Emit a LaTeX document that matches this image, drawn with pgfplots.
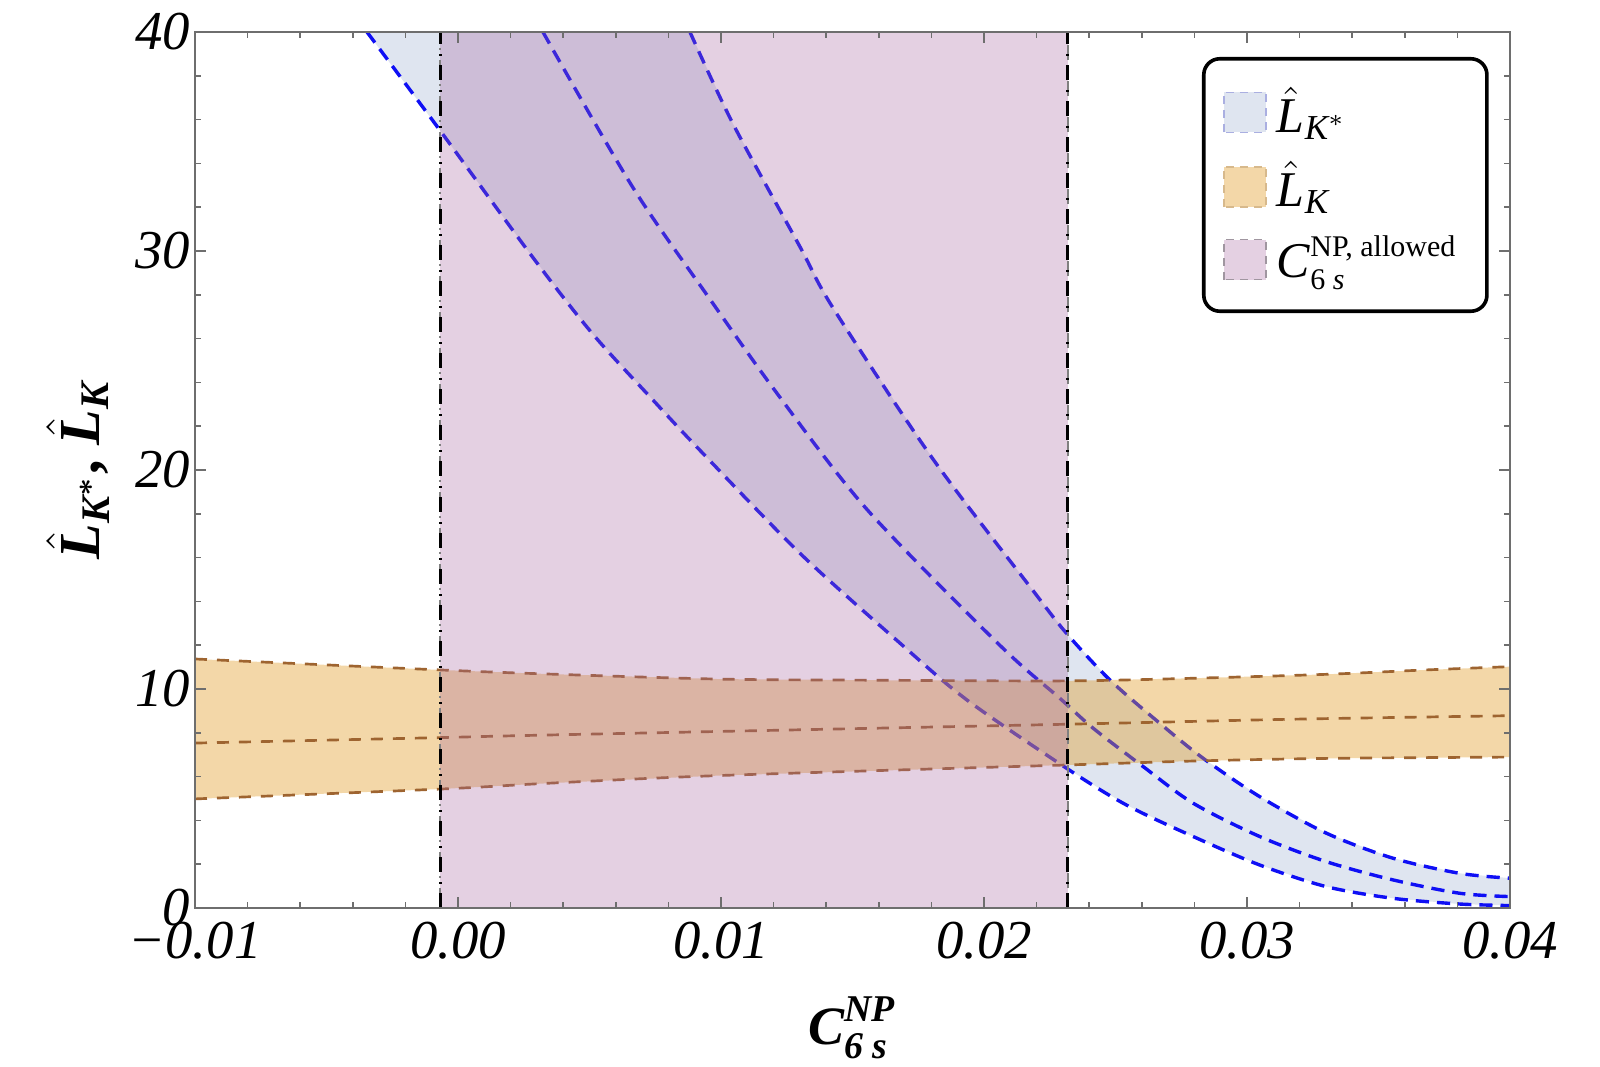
\documentclass[border=0pt]{standalone}
\usepackage{fontspec}
\setmainfont{Liberation Serif}
\usepackage{amsmath}
\usepackage{bm}
\usepackage{pgfplots}
\pgfplotsset{compat=1.18}

\definecolor{bandblue}{RGB}{223,229,240}
\definecolor{lineblue}{RGB}{15,15,245}
\definecolor{bandorange}{RGB}{225,155,37}
\definecolor{lineorange}{RGB}{158,100,48}
\definecolor{bandpurple}{RGB}{165,98,158}
\definecolor{legorange}{RGB}{243,215,168}
\definecolor{legpurple}{RGB}{228,208,226}
\definecolor{framegray}{RGB}{110,110,110}

\newcommand{\bi}[1]{\text{\bfseries\itshape #1}}
\newcommand{\ti}[1]{\text{\itshape #1}}

\begin{document}
\begin{tikzpicture}
\useasboundingbox (-48.75pt,-39.75pt) rectangle (351.25pt,227pt);
\begin{axis}[
  at={(0,0)}, anchor=south west,
  scale only axis, width=328.75pt, height=219pt,
  xmin=-0.01, xmax=0.04, ymin=0, ymax=40,
  axis on top,
  scaled x ticks=false, scaled y ticks=false,
  axis line style={framegray, line width=0.4pt},
  tick style={framegray, line width=0.4pt},
  tick align=inside,
  major tick length=2.75pt, minor tick length=1.5pt,
  xtick={-0.01,0,0.01,0.02,0.03,0.04},
  xticklabels={−0.01,0.00,0.01,0.02,0.03,0.04},
  ytick={0,10,20,30,40},
  yticklabels={0,10,20,30,40},
  minor x tick num=4, minor y tick num=4,
  ticklabel style={font=\fontsize{13.7}{16}\selectfont\itshape},
  yticklabel style={xshift=2.3pt},
  xlabel={$\bi{C}^{\bi{NP}}_{\bi{6 s}}$},
  ylabel={$\bm{\hat{\bi{L}}}_{\bi{K}^{\boldsymbol{*}}}\text{\bfseries ,}\ \bm{\hat{\bi{L}}}_{\bi{K}}$},
  xlabel style={at={(axis description cs:0.5,-0.137)}, anchor=center, font=\fontsize{13.5}{16}\selectfont},
  ylabel style={at={(axis description cs:-0.089,0.5)}, anchor=center, font=\fontsize{14.5}{17}\selectfont},
  legend image code/.code={\draw[sharp corners, line width=0.4pt, #1] (0pt,-5pt) rectangle (10.5pt,5pt);},
  legend style={at={(0.7658,0.9715)}, anchor=north west, draw=black, line width=0.9pt,
    rounded corners=4pt, fill=white, font=\fontsize{12.5}{14}\selectfont,
    row sep=3.8pt, inner xsep=4.8pt, inner ysep=6pt,
    nodes={inner xsep=2.6pt, inner ysep=1pt}},
  legend cell align=left,
]
% blue band
\addplot[draw=none, fill=bandblue, forget plot] coordinates {
(-0.00346,40) (-0.00068,35.5) (0.00285,29.7) (0.00513,26.2) (0.00741,23.2) (0.0092,20.9) (0.013,16.2) (0.0168,12.1) (0.01935,9.5) (0.02314,6.38) (0.02542,4.70) (0.02796,3.26) (0.03049,1.96) (0.03303,0.97) (0.03556,0.44) (0.0381,0.18) (0.04,0.11)
(0.04,1.36) (0.0381,1.58) (0.03556,2.27) (0.03303,3.41) (0.03049,5.08) (0.02834,6.83) (0.02669,8.43) (0.02479,10.41) (0.02314,12.54) (0.02186,14.5) (0.01806,20.5) (0.01426,27.4) (0.0130,30.2) (0.01046,35.8) (0.00882,40)
} -- cycle;
\addplot[lineblue, line width=0.85pt, dash pattern=on 3.3pt off 2pt, smooth, forget plot] coordinates {
(-0.00346,40) (-0.00068,35.5) (0.00285,29.7) (0.00513,26.2) (0.00741,23.2) (0.0092,20.9) (0.013,16.2) (0.0168,12.1) (0.01935,9.5) (0.02314,6.38) (0.02542,4.70) (0.02796,3.26) (0.03049,1.96) (0.03303,0.97) (0.03556,0.44) (0.0381,0.18) (0.04,0.11)
};
\addplot[lineblue, line width=0.85pt, dash pattern=on 3.3pt off 2pt, smooth, forget plot] coordinates {
(0.00323,40) (0.00665,32.9) (0.00958,27.8) (0.01213,23.5) (0.01555,18.2) (0.0206,12.0) (0.02289,9.57) (0.02416,8.2) (0.02606,6.45) (0.02796,4.78) (0.03049,3.26) (0.03303,2.11) (0.03556,1.28) (0.0381,0.67) (0.04,0.52)
};
\addplot[lineblue, line width=0.85pt, dash pattern=on 3.3pt off 2pt, smooth, forget plot] coordinates {
(0.00882,40) (0.01046,35.8) (0.0130,30.2) (0.01426,27.4) (0.01806,20.5) (0.02186,14.5) (0.02314,12.54) (0.02479,10.41) (0.02669,8.43) (0.02834,6.83) (0.03049,5.08) (0.03303,3.41) (0.03556,2.27) (0.0381,1.58) (0.04,1.36)
};
% orange band
\addplot[draw=none, fill=bandorange, fill opacity=0.4, forget plot] coordinates {
(-0.01,11.37) (-0.00068,10.87) (0.0035,10.68) (0.01,10.45) (0.016,10.4) (0.02314,10.37) (0.02796,10.49) (0.03303,10.67) (0.0368,10.87) (0.04,11.02)
(0.04,6.89) (0.03303,6.83) (0.02796,6.71) (0.02314,6.53) (0.01,6.05) (0.0035,5.7) (-0.00068,5.43) (-0.01,4.98)
} -- cycle;
\addplot[lineorange, line width=0.67pt, dash pattern=on 3pt off 2.5pt, smooth, forget plot] coordinates {
(-0.01,11.37) (-0.00068,10.87) (0.0035,10.68) (0.01,10.45) (0.016,10.4) (0.02314,10.37) (0.02796,10.49) (0.03303,10.67) (0.0368,10.87) (0.04,11.02)
};
\addplot[lineorange, line width=0.67pt, dash pattern=on 3pt off 2.5pt, smooth, forget plot] coordinates {
(-0.01,7.53) (-0.00068,7.78) (0.0035,7.9) (0.02314,8.39) (0.03176,8.62) (0.04,8.78)
};
\addplot[lineorange, line width=0.67pt, dash pattern=on 3pt off 2.5pt, smooth, forget plot] coordinates {
(-0.01,4.98) (-0.00068,5.43) (0.0035,5.7) (0.01,6.05) (0.02314,6.53) (0.02796,6.71) (0.03303,6.83) (0.04,6.89)
};
% allowed region
\addplot[fill=bandpurple, fill opacity=0.3, draw=gray, line width=0.5pt, dash pattern=on 3.75pt off 2.25pt on 0.5pt off 2.5pt, forget plot] coordinates {
(-0.00068,0) (0.02319,0) (0.02319,40) (-0.00068,40)
} -- cycle;
\addplot[black, line width=0.75pt, dash pattern=on 3.75pt off 2.25pt on 0.5pt off 2.5pt, forget plot] coordinates {(-0.00068,0) (-0.00068,40)};
\addplot[black, line width=0.75pt, dash pattern=on 3.75pt off 2.25pt on 0.5pt off 2.5pt, forget plot] coordinates {(0.02319,0) (0.02319,40)};
% legend
\addlegendimage{fill=bandblue, draw={rgb,255:red,170;green,175;blue,225}, dash pattern=on 2pt off 1.5pt}
\addlegendentry{$\hat{\ti{L}}_{\ti{K}^{*}}$}
\addlegendimage{fill=legorange, draw={rgb,255:red,215;green,185;blue,140}, dash pattern=on 2pt off 1.5pt}
\addlegendentry{$\hat{\ti{L}}_{\ti{K}}$}
\addlegendimage{fill=legpurple, draw={rgb,255:red,160;green,150;blue,160}, dash pattern=on 2pt off 1.5pt}
\addlegendentry{$\ti{C}^{\text{\fontsize{7.5}{8}\selectfont NP, allowed}}_{\text{\fontsize{7.5}{8}\selectfont 6 \itshape s}}$}
\end{axis}
\end{tikzpicture}
\end{document}
